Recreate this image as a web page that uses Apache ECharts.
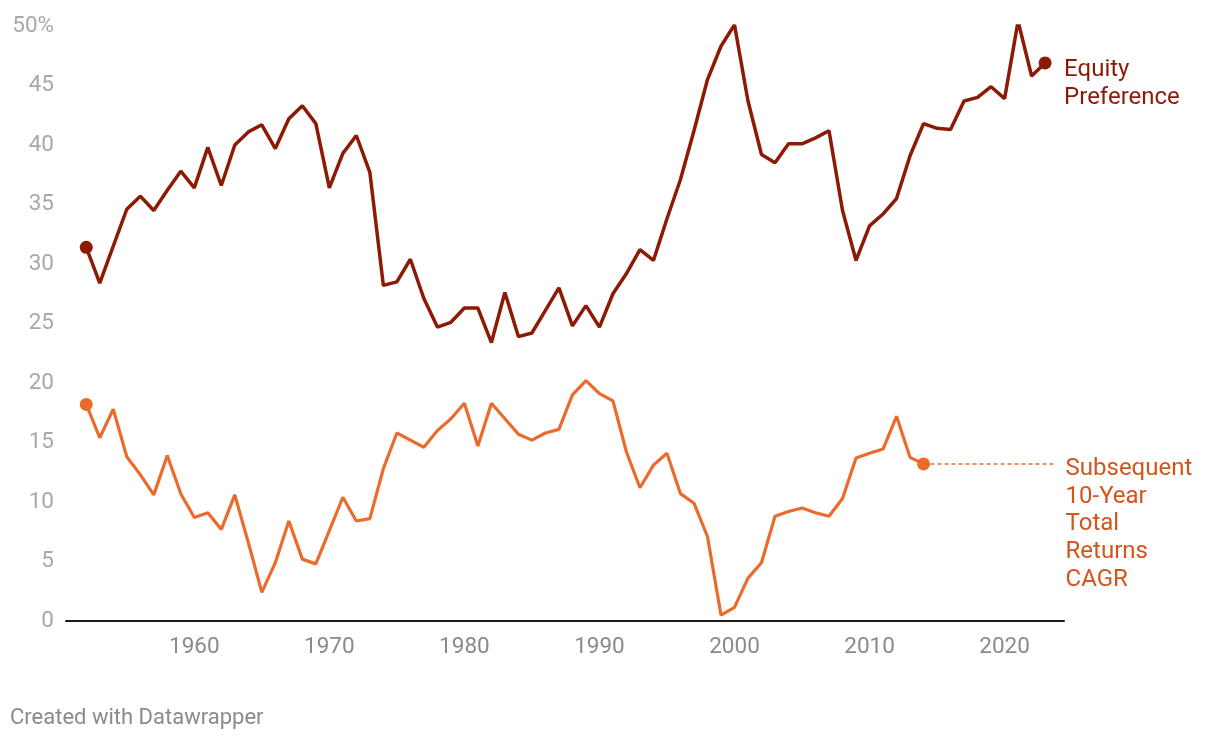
<!DOCTYPE html>
<html>
<head>
<meta charset="utf-8">
<script src="https://cdn.jsdelivr.net/npm/echarts@6/dist/echarts.min.js"></script>
<style>
html,body{margin:0;padding:0;background:#fff;}
#chart{width:1220px;height:738px;}
</style>
</head>
<body>
<div id="chart"></div>
<script>
const years = [];
for (let y = 1952; y <= 2023; y++) years.push(y);

const equityPreference = [
  31.4, 28.4, 31.5, 34.6, 35.7, 34.5, 36.2, 37.8, 36.4, 39.8,
  36.6, 40.0, 41.1, 41.7, 39.7, 42.2, 43.3, 41.8, 36.4, 39.3,
  40.8, 37.7, 28.2, 28.5, 30.4, 27.1, 24.7, 25.1, 26.3, 26.3,
  23.4, 27.6, 23.9, 24.2, 26.1, 28.0, 24.8, 26.5, 24.7, 27.5,
  29.2, 31.2, 30.3, 33.8, 37.1, 41.2, 45.5, 48.3, 50.1, 43.7,
  39.2, 38.5, 40.1, 40.1, 40.6, 41.2, 34.5, 30.3, 33.2, 34.2,
  35.5, 39.1, 41.8, 41.4, 41.3, 43.7, 44.0, 44.9, 43.9, 50.4,
  45.8, 46.9
];

const returnsYears = years.filter(y => y <= 2014);
const subsequentReturns = [
  18.2, 15.4, 17.8, 13.8, 12.3, 10.6, 13.9, 10.7, 8.7, 9.1,
  7.7, 10.6, 6.6, 2.4, 4.9, 8.4, 5.2, 4.8, 7.6, 10.4,
  8.4, 8.6, 12.8, 15.8, 15.2, 14.6, 16.0, 17.0, 18.3, 14.7,
  18.3, 17.0, 15.7, 15.2, 15.8, 16.1, 19.0, 20.2, 19.1, 18.5,
  14.2, 11.2, 13.1, 14.1, 10.7, 9.9, 7.1, 0.5, 1.15, 3.6,
  4.9, 8.8, 9.2, 9.5, 9.1, 8.8, 10.3, 13.7, 14.1, 14.45,
  17.2, 13.75, 13.2
];

const xTickLabels = [1960, 1970, 1980, 1990, 2000, 2010, 2020];
const yTicks = [0, 5, 10, 15, 20, 25, 30, 35, 40, 45, 50];

const equityLabel = 'Equity\nPreference';
const returnsLabel = 'Subsequent\n10-Year\nTotal\nReturns\nCAGR';

const equityColor = '#8c1a04';
const equityText = '#8c1a0a';
const returnsColor = '#ea6b2c';
const returnsText = '#d5541c';

const eqData = years.map((y, i) => [y, equityPreference[i]]);
const retData = returnsYears.map((y, i) => [y, subsequentReturns[i]]);
const lastRet = retData[retData.length - 1];

function endpointSize(n) {
  return function (val, params) {
    return (params.dataIndex === 0 || params.dataIndex === n - 1) ? 13 : 0;
  };
}

const chart = echarts.init(document.getElementById('chart'), null, {renderer: 'canvas'});
chart.setOption({
  animation: false,
  backgroundColor: '#ffffff',
  textStyle: {fontFamily: 'Roboto'},
  title: {
    text: 'Created with Datawrapper',
    left: 5, top: 702,
    textStyle: {fontFamily: 'Roboto', fontSize: 22, fontWeight: 'normal', color: '#8a8a8a'}
  },
  grid: {left: 66, right: 156, top: 26, bottom: 117, containLabel: false},
  xAxis: {
    type: 'value',
    min: 1950.5,
    max: 2024.4,
    splitLine: {show: false},
    axisTick: {show: false},
    axisLine: {show: true, onZero: false, lineStyle: {color: '#1a1a1a', width: 2}},
    axisLabel: {
      customValues: xTickLabels,
      color: '#8a8a8a', fontSize: 22.5, fontFamily: 'Roboto', margin: 15,
      formatter: v => String(v)
    }
  },
  yAxis: {
    type: 'value',
    min: 0, max: 50, interval: 5,
    splitLine: {show: false},
    axisTick: {show: false},
    axisLine: {show: false},
    axisLabel: {
      customValues: yTicks,
      color: '#a8a8a8', fontSize: 22.5, fontFamily: 'Roboto', margin: 12,
      formatter: v => v === 50 ? '50%' : String(v)
    }
  },
  series: [
    {
      name: 'Equity Preference',
      type: 'line',
      data: eqData,
      symbol: 'circle',
      showSymbol: true,
      showAllSymbol: true,
      symbolSize: endpointSize(eqData.length),
      itemStyle: {color: equityColor},
      lineStyle: {color: equityColor, width: 3.5},
      z: 3,
      endLabel: {
        show: true,
        formatter: equityLabel,
        color: equityText,
        fontSize: 24,
        fontFamily: 'Roboto',
        lineHeight: 28,
        align: 'left',
        verticalAlign: 'top',
        distance: 19,
        offset: [0, -7]
      }
    },
    {
      name: 'Subsequent 10-Year Total Returns CAGR',
      type: 'line',
      data: retData,
      symbol: 'circle',
      showSymbol: true,
      showAllSymbol: true,
      symbolSize: endpointSize(retData.length),
      itemStyle: {color: returnsColor},
      lineStyle: {color: returnsColor, width: 3.2},
      z: 2,
      endLabel: {
        show: true,
        formatter: returnsLabel,
        color: returnsText,
        fontSize: 24,
        fontFamily: 'Roboto',
        lineHeight: 27.8,
        align: 'left',
        verticalAlign: 'top',
        distance: 142,
        offset: [0, -9]
      },
      markLine: {
        silent: true,
        symbol: ['none', 'none'],
        label: {show: false},
        lineStyle: {color: returnsColor, type: [4, 3], width: 1.5},
        data: [[{coord: lastRet}, {coord: [2023.6, lastRet[1]]}]]
      }
    }
  ]
});
</script>
</body>
</html>
